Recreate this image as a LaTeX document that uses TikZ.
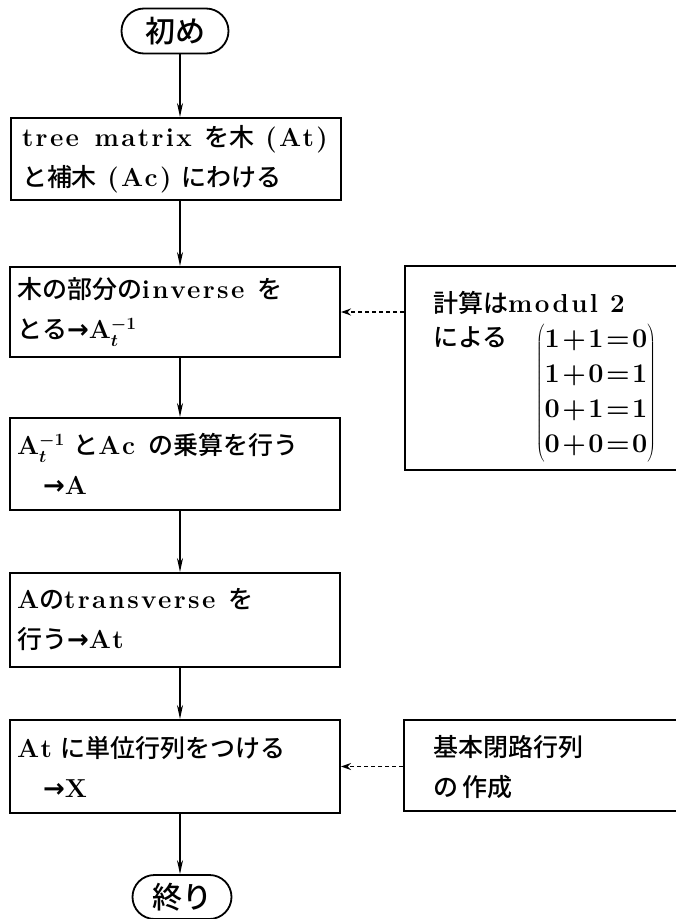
\documentclass[tikz,border=0pt]{standalone}
\usepackage{fontspec}
\setmainfont{Latin Modern Roman}[LetterSpace=9]
\newfontfamily\jp{Noto Sans CJK JP}[BoldFont={Noto Sans CJK JP Medium}]
\newfontfamily\sym{DejaVu Sans}
\newcommand{\arr}{{\sym\bfseries →}}
\newcommand{\J}[1]{{\jp\fontsize{25}{40}\selectfont #1}}
\usetikzlibrary{shapes.misc,arrows.meta}
\begin{document}
\begin{tikzpicture}[x=1pt,y=-1pt,
  proc/.style={draw, line width=2pt, rectangle, minimum width=330pt, text width=316pt, inner xsep=7pt, align=left, font=\bfseries\boldmath\fontsize{26}{40}\selectfont},
  side/.style={draw, line width=2pt, rectangle, minimum width=290pt, inner sep=0pt},
  term/.style={draw, line width=1.8pt, rounded rectangle, inner sep=0pt, font=\jp\bfseries\fontsize{30}{30}\selectfont},
  flow/.style={line width=1.6pt, -{Stealth[length=14pt,width=6pt]}},
  dflow/.style={line width=1.6pt, dash pattern=on 4pt off 3pt, -{Stealth[length=10pt,width=7pt]}},
  txt/.style={inner sep=0pt, anchor=west, font=\bfseries\fontsize{26}{40}\selectfont}]
\useasboundingbox (0,0) rectangle (676,919);
\fill[white] (0,0) rectangle (676,919);
\coordinate (ax) at (180,0);
\node[term, minimum width=107pt, minimum height=45pt] (start) at (175,31) {初め};
\node[proc, minimum height=82pt] (b1) at (176,159) {\hspace*{4pt}tree\hspace{0.6em}matrix\hspace{0.5em}\J{を木}\hspace{0.4em}(At)\\\hspace*{4pt}\J{と補木}\hspace{0.4em}(Ac)\hspace{0.4em}\J{にわける}};
\node[proc, minimum height=90pt] (b2) at (175,312) {\J{木の部分の}inverse\hspace{0.5em}\J{を}\\\J{とる}\arr A$^{-1}_{t}$};
\node[proc, minimum height=92pt] (b4) at (175,464) {A$^{-1}_{t}$ \J{と}Ac\hspace{0.5em}\J{の乗算を行う}\\\hspace*{1em}\arr A};
\node[proc, minimum height=94pt] (b5) at (175,620) {A\J{の}transverse\hspace{0.5em}\J{を}\\\J{行う}\arr At};
\node[proc, minimum height=93pt] (b6) at (175,766.5) {At \J{に単位行列をつける}\\\hspace*{1em}\arr X};
\node[term, minimum width=99pt, minimum height=44pt] (stop) at (182,897) {終り};
% side boxes
\node[side, minimum height=204pt] (b3) at (550,368) {};
\node[txt] (b3a) at (433,303) {\J{計算は}modul 2};
\node[txt] (b3b) at (433,337) {\J{による}};
\node[inner sep=0pt, font=\bfseries\fontsize{27}{35}\selectfont\boldmath] (b3m) at (596,393)
  {$\left(\begin{array}{@{}l@{}}\mbox{1+1=0}\\\mbox{1+0=1}\\\mbox{0+1=1}\\\mbox{0+0=0}\end{array}\right)$};
\node[side, minimum height=91pt] (b7) at (549,765.5) {};
\node[txt] (b7a) at (433,747) {\J{基本閉路行列}};
\node[txt] (b7b) at (433,787) {\J{の\,作成}};
% connectors
\draw[flow] (start.south -| ax) -- (b1.north -| ax);
\draw[flow] (b1.south -| ax) -- (b2.north -| ax);
\draw[flow] (b2.south -| ax) -- (b4.north -| ax);
\draw[flow] (b4.south -| ax) -- (b5.north -| ax);
\draw[flow] (b5.south -| ax) -- (b6.north -| ax);
\draw[flow] (b6.south -| ax) -- (stop.north -| ax);
\draw[dflow] (b3.west |- b2.east) -- (b2.east);
\draw[dflow] (b7.west |- b6.east) -- (b6.east);
\end{tikzpicture}
\end{document}
